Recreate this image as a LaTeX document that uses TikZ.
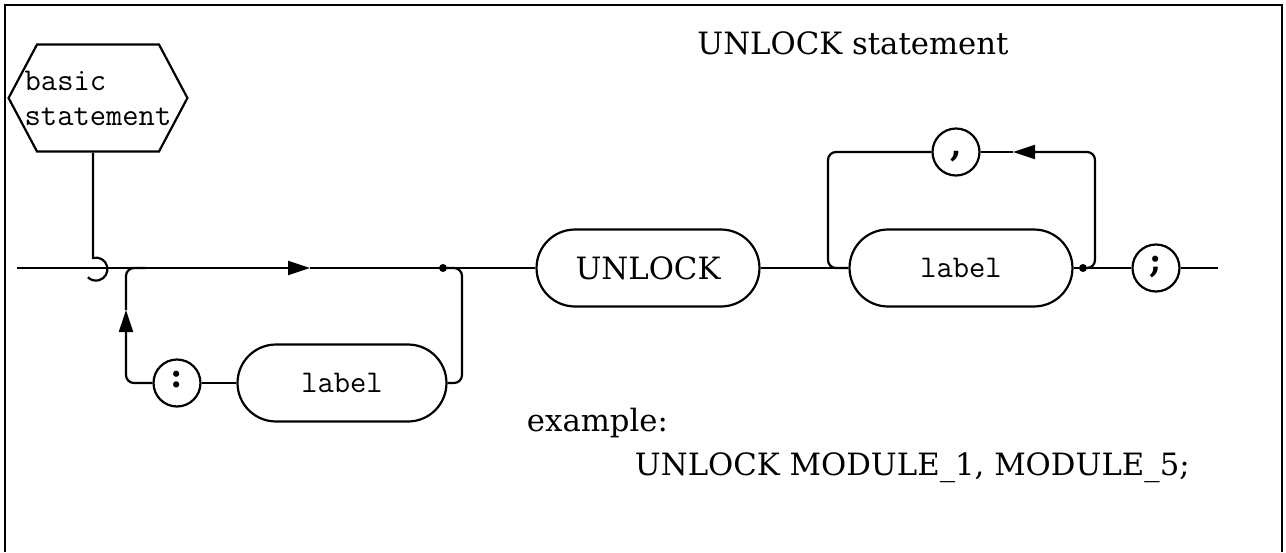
\documentclass[tikz,border=0pt]{standalone}
\usepackage{fontspec}
\setmainfont{DejaVu Serif}
\usetikzlibrary{positioning,arrows.meta,shapes.misc,shapes.symbols}

\begin{document}
\begin{tikzpicture}[
    x=0.02cm, y=-0.02cm,
    line width=1.25pt,
    >={Triangle[length=0.44cm,width=0.28cm]},
    serif/.style  = {font=\fontsize{17.5}{21}\selectfont},
    mono/.style   = {font=\fontsize{18}{20}\ttfamily},
    term/.style   = {draw, rounded rectangle, minimum width=4.46cm,
                     minimum height=1.54cm, inner sep=0pt},
    punct/.style  = {draw, circle, minimum size=0.94cm, inner sep=0pt,
                     text height=1.3ex, text depth=0.35ex,
                     font=\fontsize{19}{20}\selectfont\bfseries},
    hexbox/.style = {draw, signal, signal to=west and east,
                     signal pointer angle=124, minimum height=2.14cm,
                     inner xsep=-7pt, inner ysep=2pt, align=left,
                     font=\fontsize{18}{20}\ttfamily},
    joint/.style  = {radius=0.08cm}
]
\useasboundingbox (0,0) rectangle (1286,552);

% =========================================================
% FRAME AND TITLE
% =========================================================
\draw[line width=0.9pt] (5,552) -- (5,5) -- (1282,5) -- (1282,552);
\node[serif] (title) at (853,43) {UNLOCK statement};

\node[hexbox] (basic) at (98,98) {basic\\statement};

% =========================================================
% POINTS ON THE LINES
% =========================================================
\coordinate (start)   at (17,268);
\coordinate (hookend) at (93,258);
\coordinate (join1)   at (146,268);
\coordinate (tip1)    at (310,268);
\coordinate (tip2)    at (126,310);
\coordinate (dot1)    at (443,268);
\coordinate (rv1)     at (462,268);
\coordinate (split2)  at (828,268);
\coordinate (dot2)    at (1083,268);
\coordinate (rv2)     at (1095,152);
\coordinate (tip3)    at (1013,152);
\coordinate (stop)    at (1218,268);

% =========================================================
% BOXES
% =========================================================
\node[term, serif] (unlock) at (648,268) {UNLOCK};
\node[term, mono]  (lab2)   at (961,268) {label};
\node[punct]       (semi)   at (1156,268) {;};
\node[punct]       (comma)  at (956,152) {,};
\node[punct]       (colon)  at (177,383) {:};
\node[term, mono, minimum width=4.18cm] (lab1) at (342,383) {label};

% =========================================================
% MAIN LINE
% =========================================================
\draw[->] (start) -- (tip1);
\draw (tip1) -- (dot1) -- (unlock.west);
\draw (unlock.east) -- (lab2.west);
\draw (lab2.east) -- (semi.west);
\draw (semi.east) -- (stop);
\draw (basic.south -| hookend) -- (hookend)
      arc[start angle=105, end angle=-135, radius=0.23cm];

% =========================================================
% LOOPS
% =========================================================
\draw[->, rounded corners=0.16cm] (colon.west) -| (tip2);
\draw[rounded corners=0.16cm] (tip2) |- (join1);
\draw (colon.east) -- (lab1.west);
\draw[rounded corners=0.16cm] (lab1.east) -| (rv1) -- (dot1);

\draw[->, rounded corners=0.16cm] (dot2) -| (rv2) -- (tip3);
\draw (tip3) -- (comma.east);
\draw[rounded corners=0.16cm] (comma.west) -| (split2) -- (lab2.west);

\fill (dot1) circle[joint];
\fill (dot2) circle[joint];

% =========================================================
% EXAMPLE
% =========================================================
\node[serif, anchor=base west] (exlabel) at (520,431) {example:};
\node[serif, anchor=base west] (excode)  at (628,475)
     {UNLOCK MODULE\_1, MODULE\_5;};

\end{tikzpicture}
\end{document}
